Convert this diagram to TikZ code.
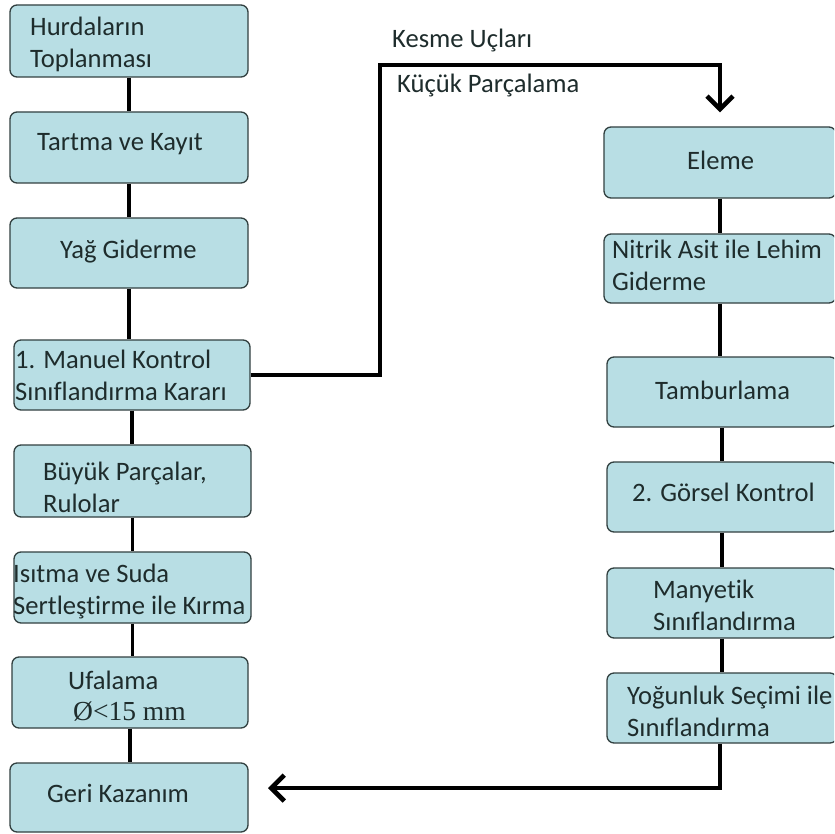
\documentclass[tikz,border=0pt]{standalone}
\usepackage{fontspec}
\setmainfont[Ligatures=NoCommon]{Carlito}
\newfontfamily\timesfont{Liberation Serif}
\usetikzlibrary{arrows.meta}
\definecolor{boxfill}{RGB}{184,222,228}
\definecolor{boxline}{RGB}{50,64,64}
\definecolor{txtcol}{RGB}{30,44,44}
\begin{document}
\begin{tikzpicture}[x=1pt,y=-1pt,
  box/.style={draw=boxline, line width=1.3pt, fill=boxfill, rounded corners=7pt, inner sep=0pt, minimum width=#1},
  box/.default=238pt,
  txt/.style={anchor=west, inner sep=0pt, align=left, text=txtcol, font=\fontsize{26.6}{32}\selectfont},
  link/.style={line width=3.3pt, black},
  conn/.style={line width=4.6pt, black, -{Straight Barb[length=13pt,width=26pt]}}]
\clip (0,0) rectangle (834,834);
\fill[white] (0,0) rectangle (834,834);
% left column
\node[box, minimum height=72pt] (b1) at (129,41) {};
\node[box, minimum height=71pt] (b2) at (129,147.5) {};
\node[box, minimum height=70pt] (b3) at (129,253) {};
\node[box=236pt, minimum height=70pt] (b4) at (132,375) {};
\node[box=237pt, minimum height=72pt] (b5) at (132.5,481) {};
\node[box=237pt, minimum height=71pt] (b6) at (132.5,587.5) {};
\node[box=236pt, minimum height=71pt] (b7) at (130,692.5) {};
\node[box, minimum height=69pt] (b8) at (129,797.5) {};
% right column
\node[box=232pt, minimum height=71pt] (r1) at (720,162.5) {};
\node[box=232pt, minimum height=69pt] (r2) at (720,268.5) {};
\node[box=230pt, minimum height=70pt] (r3) at (722,392) {};
\node[box=230pt, minimum height=70pt] (r4) at (722,497) {};
\node[box=230pt, minimum height=70pt] (r5) at (722,603) {};
\node[box=230pt, minimum height=70pt] (r6) at (722,708) {};
% texts
\node[txt] (t1) at (30,44) {Hurdaların\\Toplanması};
\node[txt] (t2) at (37,144) {Tartma ve Kayıt};
\node[txt] (t3) at (60,252) {Yağ Giderme};
\node[txt] (t4) at (15,375) {1. Manuel Kontrol\\Sınıflandırma Kararı};
\node[txt] (t5) at (43,487) {Büyük Parçalar,\\Rulolar};
\node[txt] (t6) at (13,591) {Isıtma ve Suda\\Sertleştirme ile Kırma};
\node[txt] (t7) at (68,680) {Ufalama};
\node[txt, font=\timesfont\fontsize{27.5}{32}\selectfont] (t7b) at (73,712) {Ø<15 mm};
\node[txt] (t8) at (47,793) {Geri Kazanım};
\node[txt] (s1) at (687,160) {Eleme};
\node[txt] (s2) at (612,265) {Nitrik Asit ile Lehim\\Giderme};
\node[txt] (s3) at (655,390) {Tamburlama};
\node[txt] (s4) at (632,492) {2. Görsel Kontrol};
\node[txt] (s5) at (653,605) {Manyetik\\Sınıflandırma};
\node[txt] (s6) at (627,711) {Yoğunluk Seçimi ile\\Sınıflandırma};
\node[txt] (k1) at (392,41) {Kesme Uçları};
\node[txt] (k2) at (397,86) {Küçük Parçalama};
% vertical links
\foreach \a/\b in {b1/b2,b2/b3,b3/b4,b4/b5,b5/b6,b6/b7,b7/b8,r1/r2,r2/r3,r3/r4,r4/r5,r5/r6}
  \draw[link] (\a.south) -- (\a.south |- \b.north);
% connectors
\coordinate (c1) at (380,65);
\coordinate (c2) at (720,788);
\coordinate (c3) at (268,788);
\draw[conn, shorten >=14pt] (b4.east) -| (c1) -| (r1.north);
\draw[conn] (r6.south -| c2) -- (c2) -- (c3);
\end{tikzpicture}
\end{document}
